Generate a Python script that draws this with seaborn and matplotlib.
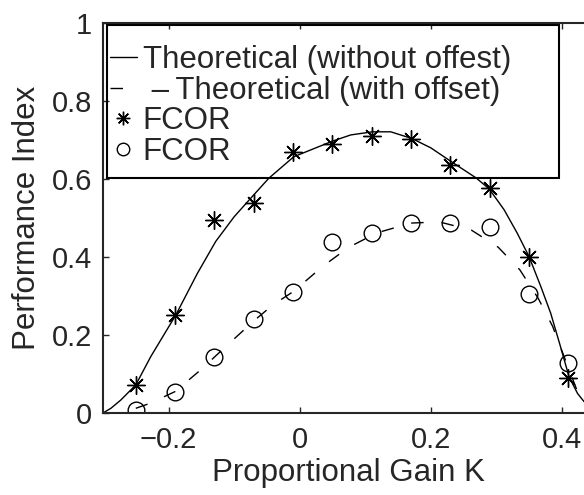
import numpy as np
import pandas as pd
import seaborn as sns
import matplotlib.pyplot as plt
from matplotlib.patches import Rectangle

# theoretical curve without offset
k_nooff = [-0.300, -0.288, -0.273, -0.250, -0.227, -0.189, -0.156, -0.128, -0.100, -0.075,
           -0.047, -0.009, 0.050, 0.078, 0.111, 0.139, 0.171, 0.200, 0.230, 0.269,
           0.289, 0.312, 0.332, 0.350, 0.368, 0.383, 0.398, 0.411, 0.424, 0.434]
pi_nooff = [0.000, 0.012, 0.033, 0.072, 0.145, 0.251, 0.358, 0.440, 0.503, 0.550,
            0.602, 0.657, 0.697, 0.713, 0.721, 0.721, 0.704, 0.680, 0.646, 0.603,
            0.575, 0.521, 0.461, 0.401, 0.324, 0.256, 0.170, 0.093, 0.050, 0.029]

# theoretical curve with offset
k_off = [-0.250, -0.228, -0.190, -0.150, -0.113, -0.070, -0.041, -0.010, 0.036, 0.075,
         0.118, 0.170, 0.213, 0.262, 0.303, 0.336, 0.364, 0.386, 0.402, 0.425]
pi_off = [0.012, 0.025, 0.055, 0.112, 0.170, 0.236, 0.277, 0.311, 0.377, 0.425,
          0.462, 0.487, 0.490, 0.469, 0.425, 0.367, 0.294, 0.222, 0.151, 0.050]

# FCOR measurements
k_fcor = [-0.25, -0.19, -0.13, -0.07, -0.01, 0.05, 0.11, 0.17, 0.23, 0.29, 0.35, 0.41]
pi_star = [0.072, 0.251, 0.495, 0.538, 0.670, 0.690, 0.711, 0.702, 0.636, 0.578, 0.401, 0.090]
pi_circ = [0.008, 0.055, 0.144, 0.240, 0.311, 0.438, 0.462, 0.486, 0.488, 0.476, 0.305, 0.127]

xticks = [-0.2, 0, 0.2, 0.4]
xtick_labels = ['\u22120.2', '0', '0.2', '0.4']
yticks = [0, 0.2, 0.4, 0.6, 0.8, 1]
ytick_labels = ['0', '0.2', '0.4', '0.6', '0.8', '1']

sns.set_style('ticks')
plt.rcParams['font.family'] = ['Liberation Sans', 'DejaVu Sans']

fig = plt.figure(figsize=(5.84, 4.95), dpi=100)
# axes runs a little past the right edge of the figure, like the reference crop
ax = fig.add_axes([103 / 584, 82 / 495, 491.6 / 584, 390 / 495])

sns.lineplot(x=k_nooff, y=pi_nooff, sort=False, color='k', lw=1, ax=ax,
             label='Theoretical (without offest)')
sns.lineplot(x=k_off, y=pi_off, sort=False, color='k', lw=1, linestyle=(0, (9, 13)), ax=ax,
             label=' \u2013\u2009Theoretical (with offset)')
sns.lineplot(x=k_fcor, y=pi_star, sort=False, color='k', linestyle='', marker=(8, 2, 0),
             markersize=13, markeredgecolor='k', markeredgewidth=1, ax=ax, label='FCOR')
sns.lineplot(x=k_fcor, y=pi_circ, sort=False, color='k', linestyle='', marker='o',
             markersize=12, markerfacecolor='none', markeredgecolor='k', markeredgewidth=1,
             ax=ax, label='FCOR')
# small dots in the middle of the stars
sns.lineplot(x=k_fcor, y=pi_star, sort=False, color='k', linestyle='', marker='o',
             markersize=3, markeredgecolor='k', markeredgewidth=0.5, ax=ax)

ax.set_xlim(-0.3, 0.45)
ax.set_ylim(0, 1)
ax.set_xticks(xticks)
ax.set_xticklabels(xtick_labels)
ax.set_yticks(yticks)
ax.set_yticklabels(ytick_labels)
ax.tick_params(direction='in', length=4, width=1, top=True, right=True, labelsize=21)
ax.tick_params(axis='x', pad=9)
ax.tick_params(axis='y', pad=8)
for s in ax.spines.values():
    s.set_linewidth(1.5)
    s.set_visible(True)

ax.set_xlabel('Proportional Gain K', fontsize=22.5, labelpad=3)
ax.set_ylabel('Performance Index', fontsize=22.5, labelpad=7)

leg = ax.legend(loc='upper left', bbox_to_anchor=(7 / 491.6, (413 - 45) / 390),
                borderaxespad=0, borderpad=0, frameon=False, fontsize=22.5,
                handlelength=0.85, handletextpad=0.2, labelspacing=0.02, markerscale=0.75)
# MATLAB-style legend box, transparent
ax.add_patch(Rectangle((4 / 491.6, (413 - 178) / 390), (559 - 107) / 491.6, (178 - 25) / 390,
                       transform=ax.transAxes, fill=False, ec='k', lw=1.5, clip_on=False))

fig.savefig('out.png', dpi=100)
